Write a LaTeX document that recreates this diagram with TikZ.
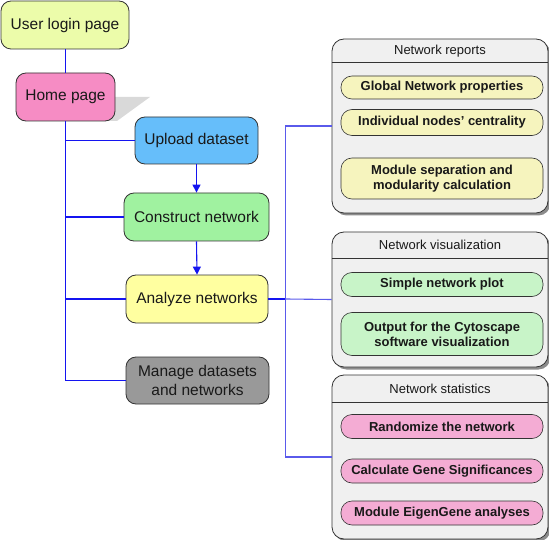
\documentclass[tikz,border=0pt]{standalone}
\usepackage{fontspec}
\setmainfont{Liberation Sans}
\usetikzlibrary{arrows.meta}
\definecolor{clogin}{RGB}{236,252,170}
\definecolor{chome}{RGB}{246,140,196}
\definecolor{cupload}{RGB}{102,190,250}
\definecolor{cconstr}{RGB}{160,242,160}
\definecolor{canalyze}{RGB}{255,255,160}
\definecolor{cmanage}{RGB}{153,153,153}
\definecolor{cbox}{RGB}{240,240,240}
\definecolor{iyellow}{RGB}{246,244,190}
\definecolor{igreen}{RGB}{200,244,200}
\definecolor{ipink}{RGB}{244,172,212}
\definecolor{lblue}{RGB}{20,20,240}
\definecolor{rblue}{RGB}{90,90,235}
\definecolor{dtext}{RGB}{25,25,25}
\tikzset{
  leftbox/.style={draw=black!80, line width=0.8pt, rounded corners=10pt, align=center,
    text=dtext, font=\fontsize{15.5}{19}\selectfont, inner sep=0pt},
  container/.style={draw=black!80, line width=0.8pt, rounded corners=12pt, fill=cbox, inner sep=0pt,
    minimum width=216pt},
  ctitle/.style={font=\fontsize{13}{15}\selectfont, text=dtext, inner sep=0pt},
  item/.style={draw=black!80, line width=0.6pt, rounded corners=11pt, align=center,
    font=\bfseries\fontsize{13}{15}\selectfont, text=dtext, inner sep=0pt,
    minimum width=202pt},
  lline/.style={draw=lblue, line width=1.1pt},
  rline/.style={draw=rblue, line width=1.1pt},
  arr/.style={lline, -{Triangle[width=8pt,length=8pt]}},
}
\begin{document}
\begin{tikzpicture}[x=1pt,y=-1pt]
\useasboundingbox (0,0) rectangle (549,540);
% shadow of home page
\fill[black!15] (60,97) -- (150,97) -- (117,121) -- (25,121) -- cycle;
% left nodes
\node[leftbox, fill=clogin, minimum width=128pt, minimum height=48pt] (login) at (65,25) {User login page};
\node[leftbox, fill=chome, minimum width=99pt, minimum height=48pt] (home) at (65.5,97) {Home page};
\node[leftbox, fill=cupload, minimum width=123pt, minimum height=47pt] (upload) at (196.5,140.5) {Upload dataset};
\node[leftbox, fill=cconstr, minimum width=145pt, minimum height=48pt] (construct) at (196.5,217) {Construct network};
\node[leftbox, fill=canalyze, minimum width=142pt, minimum height=48pt] (analyze) at (197,299) {Analyze networks};
\node[leftbox, fill=cmanage, minimum width=143pt, minimum height=47pt] (manage) at (197.5,380.5) {Manage datasets\\and networks};
% left connectors
\coordinate (spine) at (65.5,0);
\draw[lline] (login.south -| spine) -- (home.north -| spine);
\draw[lline] (home.south -| spine) -- (manage.west -| spine) -- (manage.west);
\draw[lline] (upload.west -| spine) -- (upload.west);
\draw[lline] (construct.west -| spine) -- (construct.west);
\draw[lline] (analyze.west -| spine) -- (analyze.west);
\draw[arr] (upload.south) -- (construct.north);
\draw[arr] (construct.south) -- (analyze.north);
% right containers (with shadows)
\fill[black!45, rounded corners=12pt] (334.5,41.5) rectangle (550.5,215.5);
\fill[black!45, rounded corners=12pt] (334.5,234.5) rectangle (550.5,369.5);
\fill[black!45, rounded corners=12pt] (334.5,377.5) rectangle (550.5,541.5);
\node[container, minimum height=174pt] (reports) at (440,126) {};
\node[container, minimum height=135pt] (vis) at (440,299.5) {};
\node[container, minimum height=164pt] (stats) at (440,457) {};
\draw[black!80, line width=0.8pt] (reports.west |- 0,62) -- (reports.east |- 0,62);
\draw[black!80, line width=0.8pt] (vis.west |- 0,258) -- (vis.east |- 0,258);
\draw[black!80, line width=0.8pt] (stats.west |- 0,402) -- (stats.east |- 0,402);
\node[ctitle] (treports) at (440,51) {Network reports};
\node[ctitle] (tvis) at (440,245) {Network visualization};
\node[ctitle] (tstats) at (440,388.5) {Network statistics};
% items
\node[item, fill=iyellow, minimum height=23pt] (global) at (442,87.5) {Global Network properties};
\node[item, fill=iyellow, minimum height=26pt] (indiv) at (442,122.5) {Individual nodes’ centrality};
\node[item, fill=iyellow, minimum height=41pt] (modsep) at (442,178.5) {Module separation and\\modularity calculation};
\node[item, fill=igreen, minimum height=24pt] (simple) at (442,284.5) {Simple network plot};
\node[item, fill=igreen, minimum height=43pt] (cyto) at (442,334) {Output for the Cytoscape\\software visualization};
\node[item, fill=ipink, minimum height=24pt] (random) at (442,426.5) {Randomize the network};
\node[item, fill=ipink, minimum height=24pt] (gsig) at (442,471) {Calculate Gene Significances};
\node[item, fill=ipink, minimum height=24pt] (eigen) at (442,513) {Module EigenGene analyses};
% right connectors
\coordinate (rj) at (285.5,299);
\draw[lline] (analyze.east) -- (rj);
\draw[rline] (rj) -- (vis.west);
\draw[rline] (reports.west) -- (reports.west -| rj) -- (stats.west -| rj) -- (stats.west);
\end{tikzpicture}
\end{document}
